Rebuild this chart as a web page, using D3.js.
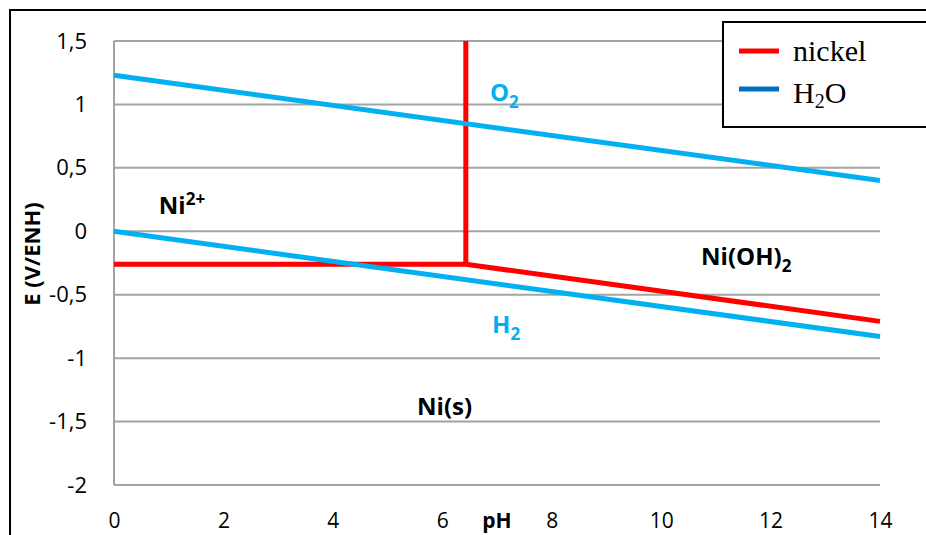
<!DOCTYPE html>
<html>
<head>
<meta charset="utf-8">
<script src="https://cdn.jsdelivr.net/npm/d3@7"></script>
<style>
  html, body { margin: 0; padding: 0; background: #fff; }
  svg { display: block; }
</style>
</head>
<body>
<svg id="chart" width="926" height="535"></svg>
<script>
// ---------- data ----------
const yTickValues = [-2, -1.5, -1, -0.5, 0, 0.5, 1, 1.5];
const xTickValues = [0, 2, 4, 6, 8, 10, 12, 14];

// nickel Pourbaix boundaries (segments)
const nickelPH = [[0, 6.43], [6.43, 6.43], [6.43, 14]];
const nickelE  = [[-0.26, -0.26], [-0.26, 1.5], [-0.26, -0.71]];

// water stability lines
const waterPH = [[0, 14], [0, 14]];
const waterE  = [[1.23, 0.40], [0, -0.83]];

// legend entries
const legendNames = ["nickel", "H2O"];

// region labels
const annotations = [
  { main: "Ni", script: "2+", type: "sup", pH: 0.82, E: 0.14, kind: "species" },
  { main: "O", script: "2", type: "sub", pH: 6.87, E: 1.03, kind: "water" },
  { main: "H", script: "2", type: "sub", pH: 6.91, E: -0.80, kind: "water" },
  { main: "Ni(OH)", script: "2", type: "sub", pH: 10.73, E: -0.265, kind: "species" },
  { main: "Ni(s)", script: "", type: "", pH: 5.54, E: -1.45, kind: "species" }
];

// ---------- drawing ----------
const svg = d3.select("#chart");
const x = d3.scaleLinear().domain([0, 14]).range([114, 880]);
const y = d3.scaleLinear().domain([-2, 1.5]).range([485, 41]);

const locale = d3.formatLocale({ decimal: ",", thousands: " ", grouping: [3], currency: ["", ""], minus: "-" });
const fmt = locale.format("~g");

const tickFont = "'Open Sans', sans-serif";
const gridColor = "#a3a3a3";

// outer frame
svg.append("path")
  .attr("d", "M10,540 V10 H930")
  .attr("fill", "none").attr("stroke", "#000").attr("stroke-width", 2);

// horizontal grid lines
svg.append("g").selectAll("line").data(yTickValues).join("line")
  .attr("x1", x(0)).attr("x2", x(14))
  .attr("y1", d => y(d)).attr("y2", d => y(d))
  .attr("stroke", gridColor).attr("stroke-width", 2);

// left axis line
svg.append("line")
  .attr("x1", x(0)).attr("x2", x(0)).attr("y1", y(1.5)).attr("y2", y(-2))
  .attr("stroke", gridColor).attr("stroke-width", 2);

// y axis tick labels
const yAxis = d3.axisLeft(y).tickValues(yTickValues).tickFormat(fmt).tickSize(0).tickPadding(27);
const gy = svg.append("g").attr("transform", `translate(${x(0)},0)`).call(yAxis);
gy.select(".domain").remove();
gy.selectAll("text").attr("font-family", tickFont).attr("font-size", 22).attr("fill", "#000");

// x axis tick labels
const xAxis = d3.axisBottom(x).tickValues(xTickValues).tickFormat(fmt).tickSize(0).tickPadding(28);
const gx = svg.append("g").attr("transform", `translate(0,${y(-2)})`).call(xAxis);
gx.select(".domain").remove();
gx.selectAll("text").attr("font-family", tickFont).attr("font-size", 21).attr("fill", "#000");

// axis titles
svg.append("text")
  .attr("x", 497).attr("y", 528)
  .attr("text-anchor", "middle")
  .attr("font-family", tickFont).attr("font-weight", "bold").attr("font-size", 21)
  .text("pH");

svg.append("text")
  .attr("transform", "translate(40,254) rotate(-90)")
  .attr("text-anchor", "middle")
  .attr("font-family", tickFont).attr("font-weight", "bold").attr("font-size", 22)
  .text("E (V/ENH)");

// lines
const line = d3.line().x(d => x(d[0])).y(d => y(d[1]));
const nickelSegs = nickelPH.map((ph, i) => ph.map((p, j) => [p, nickelE[i][j]]));
const waterSegs = waterPH.map((ph, i) => ph.map((p, j) => [p, waterE[i][j]]));

svg.append("g").selectAll("path").data(nickelSegs).join("path")
  .attr("d", line).attr("fill", "none")
  .attr("stroke", "#ff0000").attr("stroke-width", 5);

svg.append("g").selectAll("path").data(waterSegs).join("path")
  .attr("d", line).attr("fill", "none")
  .attr("stroke", "#00b0f0").attr("stroke-width", 5);

// annotations
const labFontSize = 24;
const ag = svg.append("g");
annotations.forEach(a => {
  const t = ag.append("text")
    .attr("x", x(a.pH)).attr("y", y(a.E))
    .attr("font-family", tickFont).attr("font-weight", "bold")
    .attr("font-size", labFontSize)
    .attr("fill", a.kind === "water" ? "#00b0f0" : "#000");
  t.append("tspan").text(a.main);
  if (a.script) {
    t.append("tspan")
      .attr("font-size", 17)
      .attr("dy", a.type === "sup" ? -9 : 7)
      .text(a.script);
  }
});

// legend
const lg = svg.append("g");
lg.append("rect")
  .attr("x", 723).attr("y", 22).attr("width", 220).attr("height", 105)
  .attr("fill", "#fff").attr("stroke", "#000").attr("stroke-width", 2);
const legendColors = ["#ff0000", "#0070c0"];
const legendY = d3.scalePoint().domain(legendNames).range([51, 89]);
legendNames.forEach((n, i) => {
  lg.append("line")
    .attr("x1", 739).attr("x2", 779)
    .attr("y1", legendY(n)).attr("y2", legendY(n))
    .attr("stroke", legendColors[i]).attr("stroke-width", 5);
  const t = lg.append("text")
    .attr("x", 793).attr("y", legendY(n) + (i === 0 ? 10 : 14))
    .attr("font-family", "'Liberation Serif', 'Times New Roman', serif")
    .attr("font-size", 30).attr("fill", "#000");
  if (n === "H2O") {
    t.append("tspan").text("H");
    t.append("tspan").attr("font-size", 20).attr("dy", 5).text("2");
    t.append("tspan").attr("dy", -5).text("O");
  } else {
    t.text(n);
  }
});
</script>
</body>
</html>
